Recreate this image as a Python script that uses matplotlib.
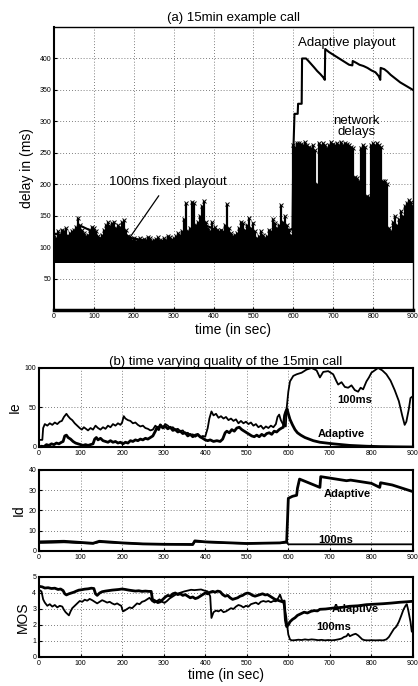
import matplotlib
matplotlib.use("Agg")
import matplotlib.pyplot as plt

plt.rcParams['font.family'] = ['Liberation Sans', 'DejaVu Sans']

# ---------------- data: top panel ----------------
net_t = list(range(0, 901, 5))
net_max = [120, 115, 125, 120, 128, 125, 130, 118, 122, 125, 128, 132,
           146, 135, 128, 122, 118, 120, 128, 132, 130, 125, 118, 115, 120, 128, 135, 140,
           132, 138, 140, 130, 135, 132, 140, 143, 128, 118, 115, 112, 114, 110, 112, 115,
           110, 113, 112, 116, 114, 110, 112, 113, 116, 112, 110, 114, 112, 118, 116, 112,
           115, 118, 122, 120, 125, 145, 170, 125, 130, 172, 170, 135, 140, 150, 165, 173,
           140, 130, 125, 140, 128, 132, 128, 125, 128, 125, 135, 168, 130, 122, 118, 120,
           122, 130, 140, 138, 128, 135, 147, 130, 138, 125, 115, 118, 125, 120, 115, 118,
           128, 125, 145, 138, 130, 135, 167, 140, 150, 135, 128, 120,
           262, 260, 265, 266, 264, 262, 267, 262, 260, 258, 262, 255, 200, 265, 262, 265,
           262, 258, 262, 268, 264, 262, 266, 262, 268, 262, 266, 264, 262, 260, 258, 211,
           210, 205, 258, 262, 260, 182, 180, 262, 265, 262, 266, 262, 260, 206, 205, 200,
           130, 125, 140, 150, 135, 145, 158, 150, 165, 170, 175, 172, 165]
net_base = 75

adapt_t = [0, 10, 20, 30, 40, 50, 58, 60, 70, 80, 90, 100, 105, 110, 130, 134, 135, 150,
           170, 185, 190, 250, 300, 360, 369, 370, 390, 410, 420, 440, 480, 520, 560, 568,
           570, 596, 598, 600, 603, 604, 611, 612, 621, 622, 632, 638, 645, 652, 660, 668,
           675, 679, 680, 690, 700, 710, 720, 730, 740, 748, 749, 758, 766, 776, 786, 796,
           806, 814, 818, 819, 828, 836, 844, 852, 860, 868, 876, 884, 892, 900]
adapt_d = [122, 120, 120, 118, 118, 118, 120, 135, 133, 130, 127, 124, 122, 115, 112,
           112, 135, 130, 124, 118, 115, 108, 112, 115, 115, 138, 132, 126, 120, 115, 112,
           112, 118, 118, 128, 128, 128, 250, 312, 312, 312, 328, 328, 400, 400, 396, 391,
           386, 380, 375, 370, 366, 415, 410, 406, 402, 398, 394, 390, 389, 396, 393, 390,
           388, 385, 381, 378, 372, 366, 385, 383, 379, 374, 370, 366, 362, 359, 356, 353,
           350]

# ---------------- data: Ie ----------------
ie100_t = [0, 8, 10, 14, 20, 26, 32, 38, 44, 50, 55, 60, 66, 70, 75, 80, 86, 92, 98, 103,
           108, 113, 118, 124, 130, 136, 142, 148, 154, 160, 166, 172, 178, 184, 190, 196,
           200, 204, 208, 214, 220, 226, 232, 238, 244, 250, 256, 262, 268, 274, 280, 286,
           292, 298, 304, 310, 316, 322, 328, 334, 340, 346, 352, 358, 364, 370, 376, 382,
           388, 394, 400, 406, 410, 415, 420, 426, 432, 438, 444, 450, 456, 462, 468, 474,
           480, 486, 492, 498, 504, 510, 516, 522, 528, 534, 540, 546, 552, 558, 564, 570,
           574, 578, 582, 586, 590, 594, 596, 600, 604, 612, 620, 632, 644, 656, 668, 676,
           684, 696, 708, 716, 720, 728, 736, 744, 752, 760, 768, 774, 780, 788, 794, 800,
           808, 816, 826, 836, 846, 856, 866, 874, 880, 884, 890, 894, 899]
ie100_v = [9, 9, 24, 29, 27, 30, 28, 31, 29, 32, 33, 38, 42, 39, 36, 34, 30, 27, 24, 22,
           25, 23, 21, 24, 22, 27, 24, 22, 25, 23, 27, 25, 29, 27, 30, 28, 31, 39, 36, 34,
           33, 30, 31, 28, 26, 27, 24, 23, 21, 22, 27, 24, 28, 25, 29, 27, 24, 25, 22, 23,
           20, 21, 17, 18, 15, 16, 13, 15, 12, 14, 13, 24, 36, 45, 40, 42, 37, 39, 36, 38,
           34, 36, 33, 35, 30, 33, 30, 32, 29, 31, 27, 29, 25, 27, 23, 26, 24, 27, 25, 29,
           38, 41, 34, 30, 27, 26, 49, 70, 83, 90, 92, 94, 98, 100, 97, 88, 95, 96, 92, 83,
           79, 82, 76, 75, 78, 72, 70, 75, 73, 83, 88, 94, 97, 100, 97, 92, 84, 72, 58, 40,
           28, 32, 48, 62, 64]
ieA_t = [0, 6, 12, 18, 24, 30, 36, 42, 48, 54, 58, 62, 66, 70, 76, 82, 88, 94, 100, 106,
         112, 118, 124, 130, 134, 138, 142, 148, 154, 160, 166, 172, 178, 184, 190, 196,
         202, 208, 214, 220, 226, 232, 238, 244, 250, 256, 262, 268, 274, 280, 284, 288,
         292, 298, 304, 310, 316, 322, 328, 334, 340, 346, 352, 358, 364, 370, 376, 382,
         388, 394, 400, 406, 412, 420, 428, 436, 442, 448, 452, 458, 464, 470, 476, 482,
         488, 494, 500, 506, 512, 518, 524, 530, 536, 542, 548, 554, 560, 566, 572, 578,
         584, 588, 591, 594, 597, 600, 604, 610, 616, 622, 630, 640, 650, 660, 676, 692,
         708, 728, 748, 768, 788, 820, 860, 900]
ieA_v = [0, 1, 0.5, 3, 2, 4, 3, 5, 4, 6, 7, 14, 15, 12, 10, 7, 5, 4, 3, 2, 3, 2, 3, 4,
         10, 12, 9, 11, 8, 7, 6, 8, 6, 7, 5, 6, 4, 6, 5, 8, 7, 9, 8, 10, 9, 11, 10, 12,
         14, 20, 25, 22, 28, 24, 26, 23, 25, 21, 22, 19, 20, 17, 18, 14, 16, 13, 15, 16,
         13, 11, 9, 8, 9, 7, 8, 7, 10, 18, 20, 18, 22, 20, 24, 25, 22, 20, 18, 16, 14, 13,
         15, 13, 16, 14, 17, 18, 16, 20, 19, 22, 24, 25, 40, 45, 48, 42, 35, 28, 22, 18,
         15, 12, 10, 8, 6, 5, 4, 3, 2, 1.5, 1, 0.5, 0.2, 0]

# ---------------- data: Id ----------------
id100_t = [0, 30, 60, 90, 130, 145, 170, 200, 250, 300, 340, 370, 375, 400, 450, 500,
           540, 580, 596, 600, 900]
id100_v = [4.0, 4.1, 4.3, 4.0, 3.7, 4.4, 4.2, 3.9, 3.5, 3.4, 3.5, 3.3, 4.6, 4.4, 4.0,
           3.7, 3.9, 3.9, 4.2, 3.3, 3.3]
idA_t = [0, 60, 130, 145, 200, 250, 300, 370, 375, 400, 500, 580, 596, 598, 600, 610,
         620, 622, 627, 645, 676, 678, 700, 740, 750, 800, 820, 822, 850, 900]
idA_v = [4.5, 4.8, 3.8, 4.8, 4.0, 3.5, 3.3, 3.2, 5.0, 4.5, 3.7, 4.0, 4.5, 15, 26, 27,
         27.5, 31, 35.5, 34, 31.4, 36.7, 36, 34.7, 35, 33.4, 31.4, 33.7, 32.6, 29.3]

# ---------------- data: MOS ----------------
mosA_t = [0, 8, 14, 22, 30, 38, 46, 52, 58, 62, 66, 72, 78, 84, 90, 96, 102, 110, 118,
          126, 132, 136, 140, 146, 152, 160, 168, 176, 184, 192, 200, 208, 216, 224, 232,
          240, 248, 256, 264, 270, 273, 280, 286, 292, 298, 304, 310, 316, 322, 328, 334,
          340, 346, 352, 358, 364, 370, 376, 382, 388, 394, 400, 406, 412, 418, 424, 430,
          436, 442, 448, 454, 460, 466, 472, 478, 484, 490, 496, 502, 508, 514, 520, 526,
          532, 538, 544, 550, 556, 562, 568, 574, 580, 586, 590, 593, 596, 600, 604, 610,
          616, 622, 630, 638, 646, 654, 662, 670, 676, 690, 708, 728, 748, 768, 788, 808,
          828, 848, 868, 885, 899]
mosA_v = [4.42, 4.38, 4.31, 4.33, 4.28, 4.3, 4.22, 4.25, 4.15, 3.95, 3.88, 3.95, 4.0,
          4.05, 4.12, 4.18, 4.2, 4.24, 4.26, 4.3, 4.28, 3.95, 3.85, 4.0, 4.08, 4.12, 4.15,
          4.18, 4.2, 4.22, 4.25, 4.22, 4.18, 4.15, 4.12, 4.14, 4.1, 4.12, 4.1, 4.1, 3.6,
          3.5, 3.4, 3.45, 3.6, 3.75, 3.85, 3.8, 3.95, 4.0, 3.9, 3.95, 3.85, 3.9, 3.8, 3.7,
          3.75, 3.65, 3.7, 3.8, 3.9, 4.0, 3.95, 4.05, 4.1, 4.05, 4.12, 4.08, 3.9, 3.8, 3.85,
          3.7, 3.6, 3.65, 3.7, 3.8, 3.85, 3.95, 4.0, 3.95, 3.85, 3.8, 3.85, 3.9, 3.95, 3.88,
          3.9, 3.8, 3.7, 3.6, 3.55, 3.5, 3.45, 3.5, 2.3, 1.9, 2.0, 2.2, 2.35, 2.45, 2.6,
          2.7, 2.8, 2.75, 2.85, 2.9, 2.88, 2.98, 3.0, 3.06, 3.1, 3.17, 3.2, 3.27, 3.3, 3.33,
          3.37, 3.42, 3.45, 3.48]
mos100_t = [0, 6, 10, 14, 20, 26, 32, 38, 44, 50, 56, 60, 64, 68, 72, 76, 80, 86, 92, 98,
            104, 110, 116, 122, 128, 134, 140, 146, 152, 158, 164, 170, 176, 182, 188,
            194, 198, 202, 206, 212, 218, 224, 230, 236, 242, 248, 254, 260, 266, 272,
            278, 284, 290, 296, 302, 308, 314, 320, 326, 332, 338, 344, 350, 358, 366,
            374, 382, 390, 398, 406, 412, 415, 420, 426, 432, 438, 444, 450, 456, 462,
            468, 474, 480, 486, 492, 498, 504, 510, 516, 522, 528, 534, 540, 546, 552,
            558, 564, 570, 576, 580, 584, 588, 592, 595, 598, 600, 604, 608, 616, 624,
            632, 640, 648, 656, 664, 672, 680, 688, 696, 704, 712, 720, 728, 734, 740,
            744, 748, 752, 756, 762, 768, 772, 778, 784, 792, 800, 810, 820, 828, 836,
            842, 848, 854, 860, 866, 872, 877, 882, 885, 888, 891, 894, 897, 899]
mos100_v = [4.2, 4.1, 3.6, 3.4, 3.2, 3.3, 3.15, 3.25, 3.1, 3.2, 3.15, 2.95, 2.8, 2.7,
            2.6, 2.85, 3.05, 3.2, 3.35, 3.5, 3.45, 3.58, 3.52, 3.63, 3.55, 3.45, 3.35,
            3.45, 3.55, 3.48, 3.4, 3.45, 3.35, 3.28, 3.35, 3.25, 3.2, 2.85, 2.9, 3.0, 3.1,
            3.05, 3.2, 3.35, 3.3, 3.45, 3.5, 3.6, 3.7, 3.5, 3.4, 3.5, 3.6, 3.45, 3.38,
            3.5, 3.65, 3.75, 3.85, 3.95, 4.0, 4.05, 4.1, 4.15, 4.2, 4.18, 4.2, 4.22, 4.15,
            4.1, 3.8, 2.44, 2.8, 2.9, 2.85, 2.95, 2.8, 2.85, 2.95, 3.05, 3.0, 3.15, 3.25,
            3.2, 3.1, 3.2, 3.15, 3.3, 3.35, 3.4, 3.3, 3.45, 3.5, 3.45, 3.5, 3.42, 3.5,
            3.48, 3.7, 3.9, 3.6, 3.4, 2.9, 2.5, 1.8, 1.4, 1.1, 1.04, 1.05, 1.08, 1.06,
            1.1, 1.07, 1.1, 1.08, 1.05, 1.07, 1.04, 1.06, 1.04, 1.06, 1.1, 1.15, 1.25,
            1.3, 1.45, 1.3, 1.35, 1.4, 1.45, 1.35, 1.25, 1.1, 1.05, 1.04, 1.05, 1.04,
            1.05, 1.04, 1.1, 1.25, 1.5, 1.75, 1.9, 2.2, 2.6, 2.96, 3.2, 3.3, 3.0, 2.6,
            2.2, 1.6, 1.55]

xticks = list(range(0, 901, 100))

fig = plt.figure(figsize=(4.18, 6.86), dpi=100)

def style(ax, lw=1.5, fs=5):
    ax.set_xlim(0, 900)
    ax.set_xticks(xticks)
    ax.tick_params(direction='in', labelsize=fs, length=2.5, width=0.8, pad=2)
    ax.grid(True, linestyle=(0, (1, 2.5)), color='#555555', linewidth=0.6)
    for s in ax.spines.values():
        s.set_linewidth(lw)

# ---- top panel ----
ax0 = fig.add_axes([0.129, 0.548, 0.859, 0.4126])
style(ax0, lw=1.0)
ax0.spines['bottom'].set_linewidth(2.5)
ax0.spines['left'].set_linewidth(1.5)
ax0.set_ylim(0, 450)
ax0.set_yticks([50, 100, 150, 200, 250, 300, 350, 400])
ax0.vlines(net_t, net_base, net_max, color='black', linewidth=1.6, zorder=3)
ax0.plot(net_t, net_max, linestyle='none', marker='x', markersize=3,
         markeredgewidth=0.7, color='black', zorder=3)
ax0.plot(adapt_t, adapt_d, color='black', linewidth=1.5, zorder=4)
ax0.set_title('(a) 15min example call', fontsize=9.5, pad=4)
ax0.set_xlabel('time (in sec)', fontsize=10, labelpad=2)
ax0.set_ylabel('delay in (ms)', fontsize=10, labelpad=4)
ax0.text(734, 424, 'Adaptive playout', fontsize=9.5, ha='center', va='center', zorder=5)
ax0.text(759, 292, 'network\ndelays', fontsize=9.5, ha='center', va='center',
         linespacing=0.9, zorder=5)
ax0.annotate('100ms fixed playout', xy=(191, 116), xytext=(286, 203),
             fontsize=9.5, ha='center', va='center', zorder=5,
             arrowprops=dict(arrowstyle='-', color='black', lw=0.9,
                             shrinkA=4, shrinkB=0))

# ---- Ie panel ----
ax1 = fig.add_axes([0.0933, 0.3484, 0.8947, 0.1152])
style(ax1)
ax1.set_ylim(0, 100)
ax1.set_yticks([0, 50, 100])
ax1.plot(ie100_t, ie100_v, color='black', linewidth=1.3)
ax1.plot(ieA_t, ieA_v, color='black', linewidth=2.0)
ax1.set_ylabel('Ie', fontsize=10, labelpad=2)
ax1.set_title('(b) time varying quality of the 15min call', fontsize=9.5, pad=2)
ax1.text(760, 60, '100ms', fontsize=8, fontweight='bold', ha='center', va='center')
ax1.text(727, 17, 'Adaptive', fontsize=8, fontweight='bold', ha='center', va='center')

# ---- Id panel ----
ax2 = fig.add_axes([0.0933, 0.1968, 0.8947, 0.1181])
style(ax2)
ax2.set_ylim(0, 40)
ax2.set_yticks([0, 10, 20, 30, 40])
ax2.plot(id100_t, id100_v, color='black', linewidth=1.3)
ax2.plot(idA_t, idA_v, color='black', linewidth=2.0)
ax2.set_ylabel('Id', fontsize=10, labelpad=2)
ax2.text(741, 28, 'Adaptive', fontsize=8, fontweight='bold', ha='center', va='center')
ax2.text(715, 5.3, '100ms', fontsize=8, fontweight='bold', ha='center', va='center')

# ---- MOS panel ----
ax3 = fig.add_axes([0.0933, 0.0423, 0.8947, 0.1166])
style(ax3)
ax3.set_ylim(0, 5)
ax3.set_yticks([0, 1, 2, 3, 4, 5])
ax3.plot(mos100_t, mos100_v, color='black', linewidth=1.3)
ax3.plot(mosA_t, mosA_v, color='black', linewidth=2.0)
ax3.set_ylabel('MOS', fontsize=10, labelpad=2)
ax3.set_xlabel('time (in sec)', fontsize=10, labelpad=1)
ax3.text(762, 3.0, 'Adaptive', fontsize=8, fontweight='bold', ha='center', va='center')
ax3.text(709, 1.9, '100ms', fontsize=8, fontweight='bold', ha='center', va='center')

fig.savefig('out.png', dpi=100)
